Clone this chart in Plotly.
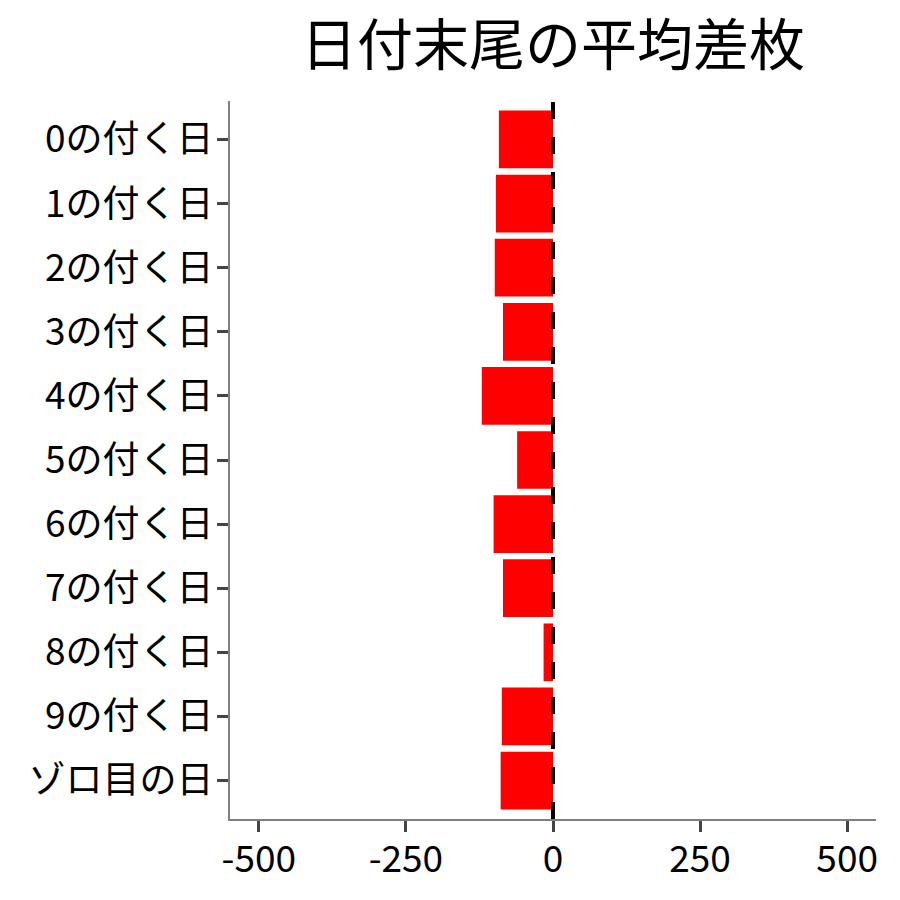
import plotly.graph_objects as go

# 日付末尾ごとの平均差枚
labels = ["0の付く日", "1の付く日", "2の付く日", "3の付く日", "4の付く日",
          "5の付く日", "6の付く日", "7の付く日", "8の付く日", "9の付く日", "ゾロ目の日"]
diff = [-92, -97, -99, -85, -121, -61, -101, -85, -16, -87, -89]

x_ticks = [-500, -250, 0, 250, 500]

font_jp = "Noto Sans CJK JP"

fig = go.Figure()
fig.add_trace(go.Bar(
    x=diff, y=labels, orientation="h",
    marker=dict(color="#ff0000", line=dict(width=0)),
    width=0.9,
))

# zero line
fig.add_shape(type="line", xref="x", yref="paper", x0=0, x1=0, y0=0, y1=1,
              line=dict(color="black", width=4, dash="17px,18px"))

fig.update_layout(
    width=900, height=900,
    paper_bgcolor="white", plot_bgcolor="white",
    margin=dict(l=222, r=32, t=93, b=89),
    showlegend=False,
    font=dict(family=font_jp, color="black"),
    title=dict(text="日付末尾の平均差枚", x=0.5, xref="paper", xanchor="center",
               y=0.958, yref="container", yanchor="middle",
               font=dict(size=56, color="black")),
)
fig.update_xaxes(
    range=[-549, 549], tickvals=x_ticks, ticktext=[str(v) for v in x_ticks],
    showgrid=False, zeroline=False,
    showline=True, linecolor="#7f7f7f", linewidth=2,
    ticks="outside", ticklen=11, tickwidth=3, tickcolor="#444444",
    tickfont=dict(size=37, color="black"), ticklabelstandoff=-4,
)
fig.update_yaxes(
    categoryorder="array", categoryarray=labels,
    range=[10.6, -0.6],
    showgrid=False, zeroline=False,
    showline=True, linecolor="#7f7f7f", linewidth=2,
    ticks="outside", ticklen=11, tickwidth=3, tickcolor="#444444",
    tickfont=dict(size=37, color="black"), ticklabelstandoff=-4,
)

fig.write_html("out.html")
